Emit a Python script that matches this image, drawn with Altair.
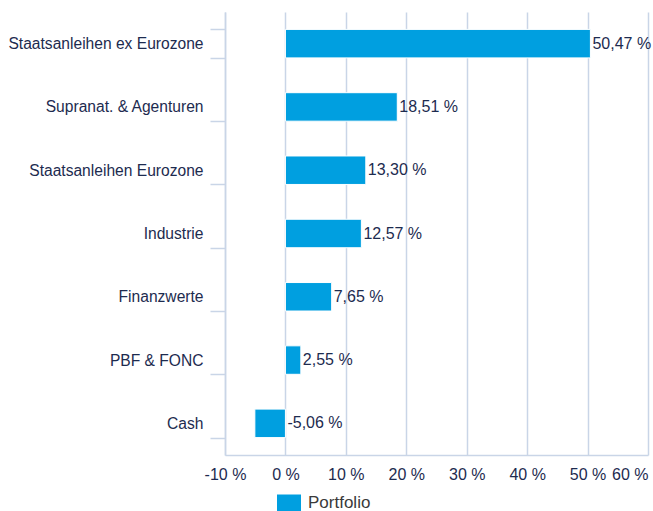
import altair as alt
import pandas as pd

categories = ["Staatsanleihen ex Eurozone", "Supranat. & Agenturen", "Staatsanleihen Eurozone",
              "Industrie", "Finanzwerte", "PBF & FONC", "Cash"]
values = [50.47, 18.51, 13.30, 12.57, 7.65, 2.55, -5.06]
labels = ["50,47 %", "18,51 %", "13,30 %", "12,57 %", "7,65 %", "2,55 %", "-5,06 %"]
series = "Portfolio"
x_ticks = [-10, 0, 10, 20, 30, 40, 50, 60]

df = pd.DataFrame({"cat": categories, "val": values, "label": labels, "series": series})
df["lpos"] = df["val"].clip(lower=0)

FONT = "Liberation Sans"
NAVY = "#1d2b4f"
GRID = "#c9d5e7"
BLUE = "#009fe0"

xscale = alt.Scale(domain=[-10, 60], nice=False, zero=False)
yscale = alt.Scale(domain=categories, paddingInner=0.55, paddingOuter=0.275)

bars = alt.Chart(df).mark_bar(stroke="white", strokeWidth=1).encode(
    x=alt.X("val:Q", scale=xscale, title=None,
            axis=alt.Axis(values=x_ticks, labelExpr="datum.value + ' %'",
                          grid=True, gridColor=GRID, gridWidth=1.5,
                          domainColor=GRID, domainWidth=1.5, ticks=False,
                          labelPadding=11, labelFont=FONT, labelFontSize=16,
                          labelColor=NAVY,
                          labelAlign={"condition": {"test": "datum.value == 60", "value": "right"}, "value": "center"})),
    y=alt.Y("cat:N", scale=yscale, sort=categories, title=None,
            axis=alt.Axis(tickBand="extent", tickSize=15, tickColor=GRID, tickWidth=1.5,
                          domainColor=GRID, domainWidth=1.5, grid=False,
                          labelPadding=7, labelFont=FONT, labelFontSize=15.6,
                          labelColor=NAVY, labelLimit=300)),
    color=alt.Color("series:N", scale=alt.Scale(domain=[series], range=[BLUE]),
                    legend=alt.Legend(title=None, orient="none", legendX=52, legendY=479,
                                      symbolType="M-1,-0.7083h2v1.4167h-2z", symbolSize=576,
                                      symbolStrokeWidth=0, symbolOpacity=1,
                                      labelFont=FONT, labelFontSize=17, labelColor="#3a3a3a",
                                      labelOffset=7, padding=0)),
)

text = alt.Chart(df).mark_text(align="left", baseline="middle", dx=2, font=FONT,
                               fontSize=16, color=NAVY).encode(
    x=alt.X("lpos:Q", scale=xscale),
    y=alt.Y("cat:N", scale=yscale, sort=categories),
    text="label:N",
)

chart = (bars + text).properties(
    width=423, height=443,
    padding={"left": 225, "top": 12, "right": 5, "bottom": 56},
    autosize=alt.AutoSizeParams(type="none"),
).configure_view(stroke=None)

chart.save("out.html", embed_options={"renderer": "svg", "actions": False})
